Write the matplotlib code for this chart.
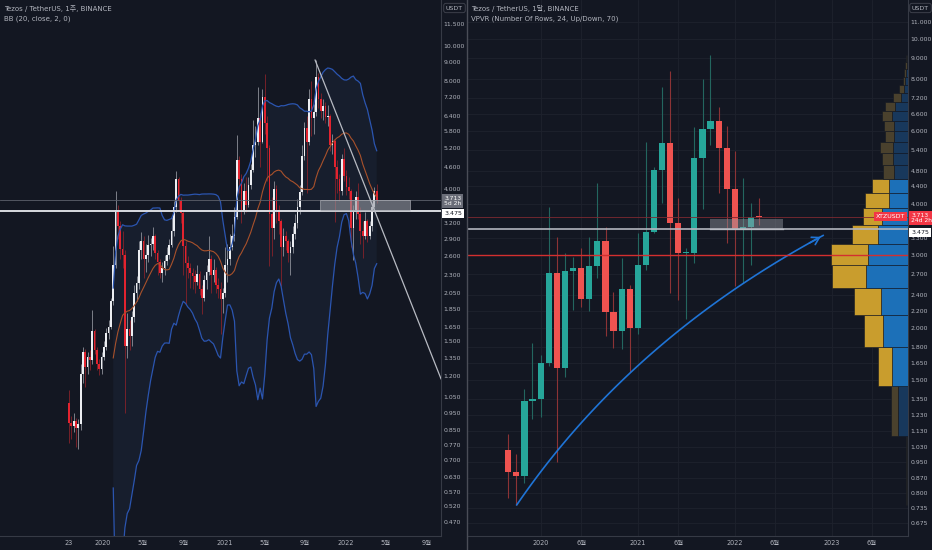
import numpy as np
import pandas as pd
import matplotlib
matplotlib.use('Agg')
import matplotlib.pyplot as plt
import matplotlib.dates as mdates
from matplotlib.lines import Line2D
from matplotlib.patches import Rectangle
from matplotlib.ticker import NullLocator

plt.rcParams['font.family'] = ['DejaVu Sans', 'Noto Sans CJK KR']

BG = '#131722'
TXT = '#b2b5be'

# ---- weekly XTZ/USDT (left panel) ----
w_start = '2019-09-23'
w_first_open = 1.01
w_close = [0.89, 0.87, 0.90, 0.86, 0.88, 1.22, 1.40, 1.27, 1.36, 1.33,
           1.60, 1.42, 1.30, 1.26, 1.36, 1.45, 1.58, 1.65, 1.94, 2.45,
           3.50, 3.15, 2.72, 2.62, 1.46, 1.62, 1.55, 1.75, 2.05, 2.18,
           2.70, 2.85, 2.55, 2.62, 2.78, 2.80, 2.95, 2.65, 2.50, 2.33,
           2.40, 2.52, 2.62, 2.78, 3.05, 3.55, 4.25, 3.70, 3.42, 2.76,
           2.48, 2.40, 2.33, 2.28, 2.20, 2.32, 2.10, 1.98, 2.22, 2.35,
           2.55, 2.30, 2.38, 2.15, 2.10, 1.97, 2.05, 2.45, 2.55, 2.75,
           2.95, 3.34, 4.80, 4.25, 3.45, 3.95, 3.60, 4.10, 4.50, 5.30,
           5.40, 6.30, 5.40, 7.20, 6.10, 5.20, 3.40, 3.10, 4.00, 3.50,
           3.25, 2.75, 2.95, 2.85, 2.65, 2.75, 3.00, 3.20, 3.55, 3.92,
           4.95, 5.90, 5.40, 7.10, 6.30, 6.55, 8.20, 7.10, 6.60, 6.80,
           6.35, 6.40, 5.30, 5.45, 4.60, 4.25, 3.95, 4.85, 4.35, 4.05,
           3.95, 3.10, 3.45, 3.80, 3.40, 3.05, 2.95, 3.25, 2.95, 3.15,
           3.55, 3.95, 3.713]
w_high = [1.10, 0.93, 0.95, 0.92, 0.91, 1.30, 1.45, 1.43, 1.40, 1.42,
          1.83, 1.62, 1.45, 1.34, 1.40, 1.50, 1.64, 1.72, 1.98, 2.76,
          3.93, 3.60, 3.25, 3.05, 2.70, 1.80, 1.72, 1.82, 2.15, 2.28,
          2.85, 3.03, 2.95, 2.80, 2.97, 2.92, 3.12, 3.00, 2.70, 2.55,
          2.50, 2.62, 2.75, 2.90, 3.33, 3.70, 4.49, 4.30, 3.80, 3.50,
          2.85, 2.60, 2.48, 2.40, 2.38, 2.45, 2.36, 2.15, 2.30, 2.45,
          2.95, 2.62, 2.55, 2.42, 2.25, 2.20, 2.12, 2.75, 2.80, 3.00,
          3.19, 3.55, 5.65, 4.95, 4.40, 4.15, 4.32, 4.30, 4.70, 6.20,
          6.00, 7.67, 6.50, 7.60, 8.38, 6.40, 5.30, 3.80, 4.20, 4.10,
          3.60, 3.30, 3.10, 3.05, 2.90, 2.85, 3.15, 3.40, 3.75, 4.10,
          5.30, 6.12, 6.40, 7.60, 8.00, 6.90, 9.15, 8.40, 7.40, 7.10,
          7.00, 6.84, 6.45, 5.70, 5.50, 4.80, 4.40, 5.00, 5.20, 4.50,
          4.30, 4.00, 3.60, 3.95, 4.15, 3.55, 3.25, 3.45, 3.30, 3.25,
          3.65, 4.05, 4.12]
w_low = [0.78, 0.80, 0.84, 0.76, 0.75, 0.85, 1.15, 1.12, 1.22, 1.25,
         1.30, 1.38, 1.25, 1.21, 1.22, 1.33, 1.42, 1.52, 1.62, 1.90,
         2.40, 2.90, 2.55, 2.40, 0.95, 1.35, 1.42, 1.46, 1.70, 1.95,
         2.10, 2.55, 2.25, 2.35, 2.50, 2.60, 2.70, 2.55, 2.30, 2.25,
         2.20, 2.30, 2.45, 2.55, 2.75, 2.95, 3.45, 3.50, 3.20, 2.30,
         1.91, 2.25, 2.12, 2.10, 2.05, 2.15, 2.02, 1.79, 1.95, 2.10,
         2.30, 2.05, 2.20, 2.05, 1.98, 1.57, 1.80, 2.00, 2.20, 2.45,
         2.70, 2.85, 3.30, 3.90, 3.20, 3.40, 3.45, 3.55, 4.00, 4.45,
         4.90, 5.30, 4.60, 5.35, 5.70, 4.20, 2.43, 2.60, 2.90, 3.20,
         3.00, 2.14, 2.60, 2.70, 2.50, 2.30, 2.65, 2.90, 3.10, 3.40,
         3.85, 4.80, 3.88, 5.30, 5.60, 5.70, 6.40, 6.70, 6.30, 6.20,
         6.10, 6.00, 5.10, 5.00, 3.22, 3.90, 3.70, 3.85, 4.20, 3.85,
         3.75, 2.75, 2.53, 3.30, 3.30, 2.80, 2.57, 2.90, 2.84, 2.90,
         3.05, 3.50, 3.65]

# ---- monthly XTZ/USDT (right panel) ----
m_start = '2019-09-01'
m_open = [1.016, 0.90, 0.88, 1.334, 1.346, 1.651, 2.724, 1.605, 2.75, 2.80,
          2.35, 2.83, 3.24, 2.19, 1.97, 2.49, 2.006, 2.84, 3.41, 4.82,
          5.60, 3.60, 3.03, 3.03, 5.15, 6.06, 6.34, 5.46, 4.33, 3.47,
          3.52, 3.72]
m_high = [1.11, 0.99, 1.426, 1.84, 1.72, 3.93, 3.33, 3.03, 2.97, 3.12,
          3.33, 4.49, 3.52, 2.45, 2.95, 2.54, 3.39, 5.63, 4.89, 7.67,
          8.38, 4.12, 3.12, 6.12, 8.00, 9.15, 6.84, 6.16, 5.36, 4.61,
          4.02, 4.12]
m_low = [0.776, 0.748, 0.847, 1.205, 1.22, 1.62, 0.951, 1.527, 2.21, 2.25,
         2.20, 2.65, 1.91, 1.79, 1.78, 1.57, 1.94, 2.77, 3.39, 4.01,
         2.43, 2.34, 2.10, 2.88, 3.88, 5.54, 4.25, 3.22, 2.53, 2.57,
         2.84, 3.55]
m_close = [0.90, 0.88, 1.334, 1.35, 1.651, 2.724, 1.605, 2.75, 2.80, 2.35,
           2.83, 3.24, 2.19, 1.97, 2.49, 2.006, 2.84, 3.41, 4.82, 5.60,
           3.60, 3.03, 3.05, 5.15, 6.06, 6.34, 5.46, 4.33, 3.47, 3.52,
           3.72, 3.713]

# VPVR, 24 rows (bottom -> top), up / down volume
vp_up = [1.0, 10.3, 16.3, 24.7, 27.0, 42.0, 40.3, 30.3, 26.0, 19.3, 18.7, 13.7,
         14.7, 15.3, 13.7, 14.3, 16.0, 12.7, 7.0, 4.3, 2.5, 1.8, 1.3, 1.0]
vp_down = [1.0, 6.7, 14.0, 19.0, 26.7, 34.3, 36.7, 26.0, 18.7, 23.4, 17.6, 11.0,
           11.3, 12.7, 9.0, 9.4, 10.3, 10.0, 7.7, 5.0, 2.8, 1.9, 1.4, 1.0]
va_rows = (2, 10)

# drawings
last_price = 3.713
level_white = 3.475
level_red = 3.0
left_box = (['2021-10-16', '2022-07-13'], [3.47, 3.73])
right_box = (['2021-09-29', '2022-07-01'], [3.47, 3.68])
trend_dates = ['2021-10-01', '2022-10-14']
trend_prices = [9.14, 1.18]
arrow_dates = ['2019-10-03', '2020-12-02', '2022-11-29']
arrow_prices = [0.748, 1.876, 3.35]

left_yticks = [11.5, 10, 9, 8, 7.2, 6.4, 5.8, 5.2, 4.6, 4.0, 3.2, 2.9, 2.6, 2.3,
               2.05, 1.85, 1.65, 1.5, 1.35, 1.2, 1.05, 0.95, 0.85, 0.77, 0.70,
               0.63, 0.57, 0.52, 0.47]
right_yticks = [11, 10, 9, 8, 7.2, 6.6, 6.0, 5.4, 4.8, 4.4, 4.0, 3.3, 3.0, 2.7,
                2.4, 2.2, 2.0, 1.8, 1.65, 1.5, 1.35, 1.23, 1.13, 1.03, 0.95,
                0.87, 0.80, 0.735, 0.675]
left_xticks = ['2019-09-23', '2020-01-01', '2020-05-01', '2020-09-01', '2021-01-01',
               '2021-05-01', '2021-09-01', '2022-01-01', '2022-05-01', '2022-09-01']
left_xlabels = ['23', '2020', '5월', '9월', '2021', '5월', '9월', '2022', '5월', '9월']
right_xticks = ['2020-01-01', '2020-06-01', '2021-01-01', '2021-06-01',
                '2022-01-01', '2022-06-01', '2023-01-01', '2023-06-01']
right_xlabels = ['2020', '6월', '2021', '6월', '2022', '6월', '2023', '6월']


def dnum(dates):
    return mdates.date2num(pd.to_datetime(dates).to_pydatetime())


def draw_candles(ax, x, o, h, l, c, width, up_body, dn_body, up_wick, dn_wick, wick_lw):
    o, h, l, c = map(np.asarray, (o, h, l, c))
    up = c >= o
    ax.vlines(x, l, h, colors=np.where(up, up_wick, dn_wick), lw=wick_lw, zorder=3)
    bottom = np.minimum(o, c)
    height = np.maximum(np.abs(c - o), bottom * 0.006)
    ax.bar(x, height, bottom=bottom, width=width, color=np.where(up, up_body, dn_body),
           linewidth=0, zorder=4)


def style_axes(ax, yticks, xticks, xlabels):
    ax.set_facecolor(BG)
    ax.set_yscale('log')
    ax.yaxis.tick_right()
    ax.set_yticks(yticks)
    ax.set_yticklabels(['%.3f' % v for v in yticks])
    ax.yaxis.set_minor_locator(NullLocator())
    ax.set_xticks(dnum(xticks))
    ax.set_xticklabels(xlabels)
    ax.tick_params(axis='x', length=0, labelsize=4.7, colors=TXT, pad=3)
    ax.tick_params(axis='y', length=0, labelsize=4.4, colors=TXT, pad=2)
    for side in ['top', 'left']:
        ax.spines[side].set_visible(False)
    for side in ['bottom', 'right']:
        ax.spines[side].set_color('#363a45')
        ax.spines[side].set_linewidth(0.8)


fig = plt.figure(figsize=(9.32, 5.5), dpi=100, facecolor=BG)
ax1 = fig.add_axes([0, 14 / 550, 441 / 932, 536 / 550])
ax2 = fig.add_axes([468 / 932, 14 / 550, 440 / 932, 536 / 550])

# ---------------- left: weekly + BB ----------------
wx = dnum(pd.date_range(w_start, periods=len(w_close), freq='7D'))
w_open = [w_first_open] + w_close[:-1]
style_axes(ax1, left_yticks, left_xticks, left_xlabels)
x0 = dnum([w_start])[0]
ax1.set_xlim(x0 - 207, x0 + 1117)
ax1.set_ylim(0.430, 13.44)

s = pd.Series(w_close)
basis = s.rolling(20).mean()
dev = s.rolling(20).std(ddof=0)
upper = (basis + 2 * dev).to_numpy()
lower = (basis - 2 * dev).clip(lower=0.01).to_numpy()
ok = ~np.isnan(basis.to_numpy())
ax1.fill_between(wx[ok], lower[ok], upper[ok], color='#171e2d', lw=0, zorder=1)
ax1.plot(wx[ok], upper[ok], color='#2b55b0', lw=0.9, zorder=5)
ax1.plot(wx[ok], lower[ok], color='#2b55b0', lw=0.9, zorder=5)
ax1.plot(wx[ok], basis[ok], color='#a8512b', lw=0.8, zorder=5)

draw_candles(ax1, wx, w_open, w_high, w_low, w_close, 5.4,
             '#eceef2', '#e3232f', '#8d9099', '#86222a', 0.6)

ax1.axhline(last_price, color='#5d606b', lw=0.6, zorder=6)
ax1.axhline(level_white, color='#d9dbe0', lw=1.4, zorder=6)
bx = dnum(left_box[0])
ax1.add_patch(Rectangle((bx[0], left_box[1][0]), bx[1] - bx[0], left_box[1][1] - left_box[1][0],
                        fc='#9598a1', ec='#c8cad0', lw=0.6, alpha=0.6, zorder=7))
ax1.plot(dnum(trend_dates), trend_prices, color='#b8bbc3', lw=0.9, zorder=8)

ax1.text(0.009, 1 - 9 / 536, 'Tezos / TetherUS, 1주, BINANCE', transform=ax1.transAxes,
         fontsize=5, color=TXT, va='center')
ax1.text(0.009, 1 - 19 / 536, 'BB (20, close, 2, 0)', transform=ax1.transAxes,
         fontsize=5, color=TXT, va='center')
ax1.annotate('3.713\n5d 2h', xy=(1, last_price), xycoords=('axes fraction', 'data'),
             xytext=(2.2, 3.2), textcoords='offset points', ha='left', va='top',
             fontsize=4.3, color='#ffffff', linespacing=1.1, annotation_clip=False,
             bbox=dict(boxstyle='square,pad=0.3', fc='#6a6d78', ec='none'))
ax1.annotate('3.475', xy=(1, level_white), xycoords=('axes fraction', 'data'),
             xytext=(2.2, -0.5), textcoords='offset points', ha='left', va='top',
             fontsize=4.5, color='#131722', annotation_clip=False,
             bbox=dict(boxstyle='square,pad=0.3', fc='#ffffff', ec='none'))

# ---------------- right: monthly + VPVR ----------------
mx = dnum(pd.date_range(m_start, periods=len(m_close), freq='MS'))
style_axes(ax2, right_yticks, right_xticks, right_xlabels)
r0 = dnum(['2020-01-01'])[0]
ax2.set_xlim(r0 - 273.6, r0 + 1382.4)
ax2.set_ylim(0.629, 12.42)
ax2.grid(True, color='#1e222d', lw=0.6, zorder=0)

draw_candles(ax2, mx, m_open, m_high, m_low, m_close, 23,
             '#26a69a', '#ef5350', '#23665f', '#8c3335', 0.8)

bx = dnum(right_box[0])
ax2.add_patch(Rectangle((bx[0], right_box[1][0]), bx[1] - bx[0], right_box[1][1] - right_box[1][0],
                        fc='#9598a1', ec='none', alpha=0.45, zorder=7))
ax2.plot(bx, [right_box[1][0]] * 2, color='#e0e2e6', lw=0.9, zorder=7)

# curved arrow: quadratic bezier in (date, log price)
ad = dnum(arrow_dates)
ap = np.log(arrow_prices)
t = np.linspace(0, 1, 120)
bxs = (1 - t) ** 2 * ad[0] + 2 * (1 - t) * t * ad[1] + t ** 2 * ad[2]
bys = np.exp((1 - t) ** 2 * ap[0] + 2 * (1 - t) * t * ap[1] + t ** 2 * ap[2])
ax2.plot(bxs, bys, color='#1f74d6', lw=1.2, zorder=8)
ax2.annotate('', xy=(bxs[-1], bys[-1]), xytext=(bxs[-6], bys[-6]),
             arrowprops=dict(arrowstyle='->,head_length=0.5,head_width=0.3',
                             color='#1f74d6', lw=1.2), zorder=8)

ax_vp = ax2.twiny()
ax_vp.set_xlim(440, 0)
ax_vp.set_xticks([])
for sp in ax_vp.spines.values():
    sp.set_visible(False)
edges = np.linspace(min(m_low), max(m_high), len(vp_up) + 1)
for r in range(len(vp_up)):
    bright = va_rows[0] <= r <= va_rows[1]
    c_up = '#1c70b8' if bright else '#18385c'
    c_dn = '#c99d2d' if bright else '#4a412d'
    ax_vp.barh(edges[r], vp_up[r], height=edges[r + 1] - edges[r], left=0, align='edge',
               color=c_up, edgecolor=BG, lw=0.4, zorder=2)
    ax_vp.barh(edges[r], vp_down[r], height=edges[r + 1] - edges[r], left=vp_up[r],
               align='edge', color=c_dn, edgecolor=BG, lw=0.4, zorder=2)
ax_vp.axhline(level_red, color='#d32f2f', lw=1.0, zorder=5)
ax_vp.axhline(last_price, color='#7e2a31', lw=0.6, zorder=5)
ax_vp.axhline(level_white, color='#b2b5be', lw=1.2, zorder=5)

ax2.text(0.007, 1 - 9 / 536, 'Tezos / TetherUS, 1달, BINANCE', transform=ax2.transAxes,
         fontsize=5, color=TXT, va='center')
ax2.text(0.007, 1 - 19 / 536, 'VPVR (Number Of Rows, 24, Up/Down, 70)',
         transform=ax2.transAxes, fontsize=5, color=TXT, va='center')
ax_vp.annotate('XTZUSDT', xy=(1, last_price), xycoords=('axes fraction', 'data'),
               xytext=(-2, 0.3), textcoords='offset points', ha='right', va='center',
               fontsize=4.5, color='#ffffff', annotation_clip=False, zorder=12,
               bbox=dict(boxstyle='square,pad=0.3', fc='#f23645', ec='none'))
ax_vp.annotate('3.713\n24d 2h', xy=(1, last_price), xycoords=('axes fraction', 'data'),
               xytext=(2.2, 3.2), textcoords='offset points', ha='left', va='top',
               fontsize=4.3, color='#ffffff', linespacing=1.1, annotation_clip=False,
               bbox=dict(boxstyle='square,pad=0.3', fc='#f23645', ec='none'))
ax_vp.annotate('3.475', xy=(1, level_white), xycoords=('axes fraction', 'data'),
               xytext=(2.2, -1.0), textcoords='offset points', ha='left', va='top',
               fontsize=4.5, color='#131722', annotation_clip=False,
               bbox=dict(boxstyle='square,pad=0.3', fc='#ffffff', ec='none'))

# frame bits
fig.add_artist(Line2D([466.5 / 932] * 2, [0, 1], color='#4a4d57', lw=1.0))
for xp in (454.5, 920.5):
    fig.text(xp / 932, 1 - 8 / 550, 'USDT', ha='center', va='center', fontsize=4.5,
             color=TXT, bbox=dict(boxstyle='round,pad=0.35', fc=BG, ec='#434651', lw=0.6))

fig.savefig('out.png', dpi=100, facecolor=BG)
